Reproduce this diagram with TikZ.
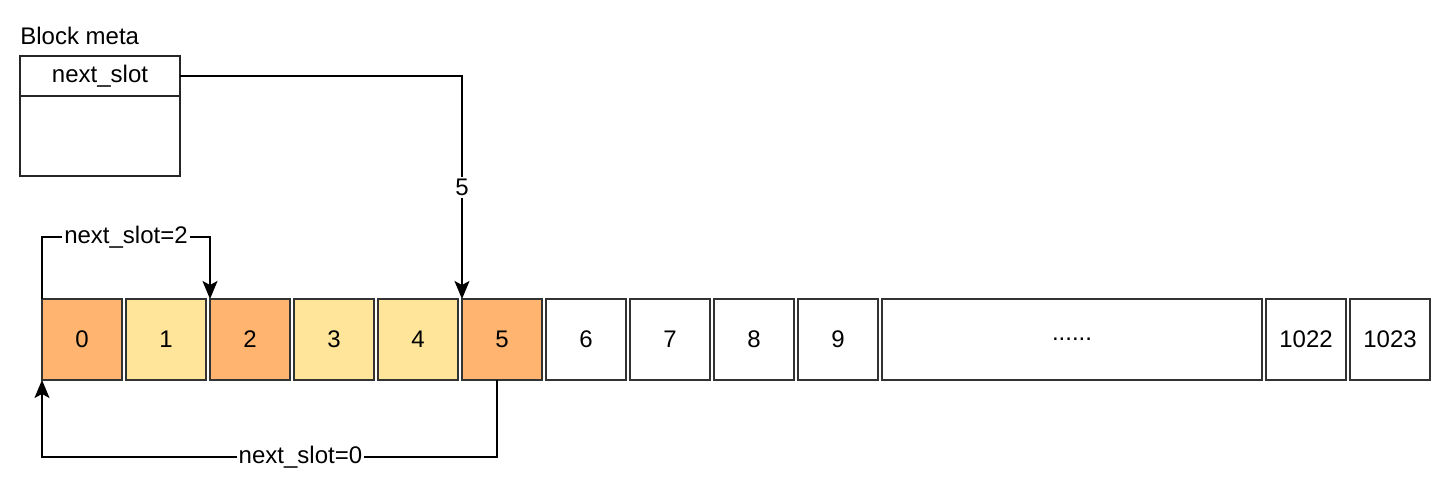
\documentclass[tikz,border=0pt]{standalone}
\usepackage{fontspec}
\setmainfont{Liberation Sans}
\usepackage{xcolor}
\usepackage{tikz}
\usetikzlibrary{positioning, arrows.meta}

\definecolor{slotorange}{HTML}{FFB570}
\definecolor{slotyellow}{HTML}{FFE599}

\begin{document}
\begin{tikzpicture}[
      x=0.5pt, y=-0.5pt,
      font=\fontsize{12}{14}\selectfont,
      node distance=0pt and 2pt,
      slot/.style={rectangle, draw=black!80, line width=0.9pt, minimum width=40pt, minimum height=40.5pt, inner sep=0pt, outer sep=0pt, fill=white},
      used/.style={slot, fill=slotorange},
      free/.style={slot, fill=slotyellow},
      field/.style={rectangle, draw=black!85, line width=0.9pt, minimum width=80pt, inner sep=0pt, outer sep=0pt},
      link/.style={draw=black, line width=0.8pt, -{Stealth[length=9pt, width=7.5pt, inset=2pt]}},
      lbl/.style={fill=white, inner sep=1pt}
    ]
    \useasboundingbox (0,0) rectangle (1448,490);

    % Block meta
    \node[anchor=base west, inner sep=0pt] (metatitle) at (20,45) {Block meta};
    \node[field, minimum height=20pt] (slotfield) at (100,76) {next\_slot};
    \node[field, minimum height=40pt, below=0pt of slotfield] (metabody) {};

    % Slots of the block
    \node[used] (c0) at (82,339.5) {0};
    \node[free, right=of c0] (c1) {1};
    \node[used, right=of c1] (c2) {2};
    \node[free, right=of c2] (c3) {3};
    \node[free, right=of c3] (c4) {4};
    \node[used, right=of c4] (c5) {5};
    \node[slot, right=of c5] (c6) {6};
    \node[slot, right=of c6] (c7) {7};
    \node[slot, right=of c7] (c8) {8};
    \node[slot, right=of c8] (c9) {9};
    \node[slot, minimum width=190pt, right=of c9] (cdots) {......};
    \node[slot, right=of cdots] (c1022) {1022};
    \node[slot, right=of c1022] (c1023) {1023};

    % Free list links
    \draw[link] (slotfield.east) -| node[lbl, pos=0.75] {5} (c5.north west);
    \draw[link] (c0.north west) -- ++(0,-62) -| node[lbl, pos=0.25] {next\_slot=2} (c2.north west);
    \draw[link] ([xshift=-2.5pt]c5.south) -- ++(0,77) -| node[lbl, pos=0.216] {next\_slot=0} (c0.south west);

  \end{tikzpicture}
\end{document}
